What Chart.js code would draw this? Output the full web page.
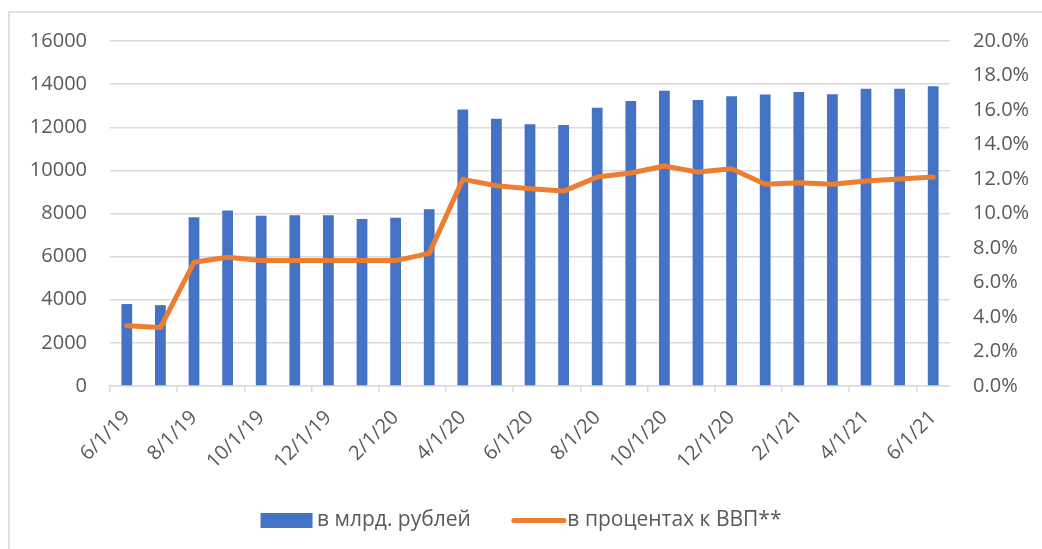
<!DOCTYPE html>
<html>
<head>
<meta charset="utf-8">
<script src="https://cdn.jsdelivr.net/npm/chart.js@4"></script>
<style>
  html, body { margin: 0; padding: 0; background: #ffffff; }
  #wrap { position: relative; width: 1042px; height: 549px; }
</style>
</head>
<body>
<div id="wrap"><canvas id="c" width="1042" height="549"></canvas></div>
<script>
const categories = ['6/1/19','7/1/19','8/1/19','9/1/19','10/1/19','11/1/19','12/1/19','1/1/20','2/1/20','3/1/20',
  '4/1/20','5/1/20','6/1/20','7/1/20','8/1/20','9/1/20','10/1/20','11/1/20','12/1/20','1/1/21',
  '2/1/21','3/1/21','4/1/21','5/1/21','6/1/21'];
const rubBillions = [3800, 3750, 7830, 8140, 7890, 7920, 7920, 7740, 7800, 8200,
  12820, 12390, 12140, 12110, 12910, 13220, 13690, 13260, 13440, 13520,
  13630, 13530, 13780, 13780, 13900];
const pctGDP = [3.49, 3.39, 7.17, 7.46, 7.27, 7.27, 7.27, 7.27, 7.27, 7.69,
  11.98, 11.61, 11.43, 11.30, 12.11, 12.35, 12.75, 12.40, 12.60, 11.69,
  11.78, 11.69, 11.88, 12.00, 12.11];
const leftTicks = [0, 2000, 4000, 6000, 8000, 10000, 12000, 14000, 16000];
const rightTicks = [0, 2, 4, 6, 8, 10, 12, 14, 16, 18, 20];
const seriesNames = ['в млрд. рублей', 'в процентах к ВВП**'];

const BLUE = '#4472C4', ORANGE = '#ED7D31', GRID = '#D9D9D9', TEXT = '#595959';
const FONT = "'Open Sans', 'Noto Sans', sans-serif";

const frame = {
  id: 'frame',
  beforeDraw(chart) {
    const ctx = chart.ctx;
    ctx.save();
    ctx.fillStyle = '#fff';
    ctx.fillRect(0, 0, chart.width, chart.height);
    ctx.strokeStyle = GRID;
    ctx.lineWidth = 1.5;
    ctx.beginPath();
    ctx.moveTo(9, chart.height + 5);
    ctx.lineTo(9, 12);
    ctx.lineTo(chart.width + 5, 12);
    ctx.stroke();
    ctx.restore();
  }
};

// legend keys: wide blue block for the bars, short thick line for the line series
const legendKeys = {
  id: 'legendKeys',
  afterDraw(chart) {
    const lg = chart.legend;
    if (!lg || !lg.legendHitBoxes) return;
    const ctx = chart.ctx;
    lg.legendItems.forEach((item, k) => {
      const hb = lg.legendHitBoxes[k];
      const ds = chart.data.datasets[item.datasetIndex];
      const y = hb.top + hb.height / 2;
      ctx.save();
      if (ds.type === 'line') {
        ctx.strokeStyle = ds.borderColor;
        ctx.lineWidth = 5;
        ctx.lineCap = 'round';
        ctx.beginPath();
        ctx.moveTo(hb.left + 3, y);
        ctx.lineTo(hb.left + 53, y);
        ctx.stroke();
      } else {
        ctx.fillStyle = ds.backgroundColor;
        ctx.fillRect(hb.left, y - 7.5, 52, 15);
      }
      ctx.restore();
    });
  }
};

new Chart(document.getElementById('c'), {
  data: {
    labels: categories,
    datasets: [
      {
        type: 'line',
        label: seriesNames[1],
        data: pctGDP,
        yAxisID: 'y1',
        borderColor: ORANGE,
        backgroundColor: ORANGE,
        borderWidth: 5,
        pointRadius: 0,
        borderJoinStyle: 'round',
        borderCapStyle: 'round',
        tension: 0,
        order: 0
      },
      {
        type: 'bar',
        label: seriesNames[0],
        data: rubBillions,
        yAxisID: 'y',
        backgroundColor: BLUE,
        borderWidth: 0,
        categoryPercentage: 1.0,
        barPercentage: 0.32,
        order: 1
      }
    ]
  },
  options: {
    responsive: false,
    animation: false,
    devicePixelRatio: 1,
    layout: { padding: { top: 41, left: 0, right: 0, bottom: 8 } },
    plugins: {
      tooltip: { enabled: false },
      legend: {
        position: 'bottom',
        reverse: true,
        labels: {
          color: TEXT,
          font: { family: FONT, size: 21 },
          boxWidth: 46,
          boxHeight: 15,
          padding: 40,
          generateLabels(chart) {
            return chart.data.datasets.map((ds, i) => ({
              text: ds.label,
              fillStyle: 'rgba(0,0,0,0)',
              strokeStyle: 'rgba(0,0,0,0)',
              lineWidth: 0,
              fontColor: TEXT,
              hidden: false,
              datasetIndex: i
            }));
          }
        }
      }
    },
    scales: {
      x: {
        type: 'category',
        offset: true,
        afterFit(scale) { scale.height = 84; },
        grid: {
          offset: true,
          drawOnChartArea: false,
          drawTicks: true,
          tickLength: 6,
          color: (ctx) => (ctx.index % 2 === 0 ? GRID : 'rgba(0,0,0,0)'),
          lineWidth: 1.5
        },
        border: { display: true, color: GRID, width: 1.5 },
        ticks: {
          autoSkip: false,
          minRotation: 45,
          maxRotation: 45,
          padding: 14,
          color: TEXT,
          font: { family: FONT, size: 20 },
          callback: (v, i) => (i % 2 === 0 ? categories[i] : '')
        }
      },
      y: {
        position: 'left',
        min: leftTicks[0],
        max: leftTicks[leftTicks.length - 1],
        afterFit(scale) { scale.width = 110; },
        afterBuildTicks(scale) { scale.ticks = leftTicks.map(v => ({ value: v })); },
        grid: { color: GRID, lineWidth: 1.5, drawTicks: false },
        border: { display: false },
        ticks: {
          padding: 23,
          color: TEXT,
          font: { family: FONT, size: 20 },
          callback: (v) => String(v)
        }
      },
      y1: {
        position: 'right',
        min: rightTicks[0],
        max: rightTicks[rightTicks.length - 1],
        afterFit(scale) { scale.width = 92; },
        afterBuildTicks(scale) { scale.ticks = rightTicks.map(v => ({ value: v })); },
        grid: { drawOnChartArea: false, drawTicks: false },
        border: { display: false },
        ticks: {
          padding: 23,
          color: TEXT,
          font: { family: FONT, size: 20 },
          callback: (v) => Number(v).toFixed(1) + '%'
        }
      }
    }
  },
  plugins: [frame, legendKeys]
});
</script>
</body>
</html>
